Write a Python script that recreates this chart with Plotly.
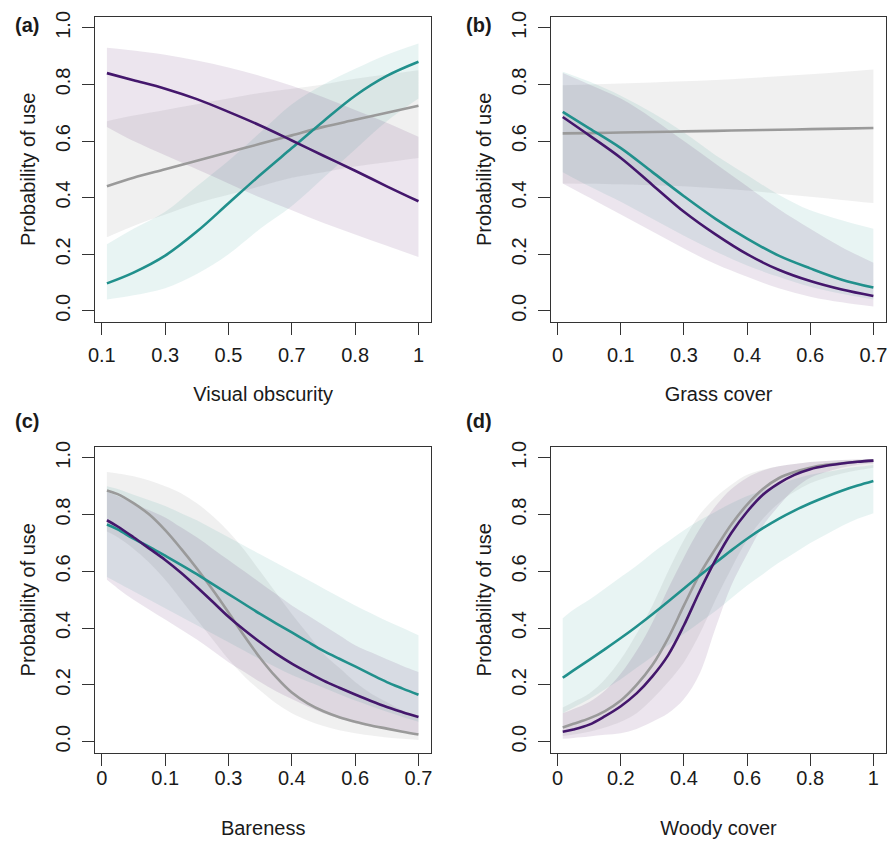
import plotly.graph_objects as go

# x positions along each (equally spaced) tick axis: tick i sits at position i
pos_ab = [0.08, 0.5, 1.0, 1.5, 2.0, 2.5, 3.0, 3.5, 4.0, 4.5, 5.0]
pos_cd = [0.08, 0.25, 0.5, 0.75, 1.0, 1.25, 1.5, 1.75, 2.0, 2.25, 2.5,
          2.75, 3.0, 3.25, 3.5, 3.75, 4.0, 4.25, 4.5, 4.75, 5.0]
tick_pos = [0, 1, 2, 3, 4, 5]

# tick labels
a_ticks = ["0.1", "0.3", "0.5", "0.7", "0.8", "1"]
b_ticks = ["0", "0.1", "0.3", "0.4", "0.6", "0.7"]
c_ticks = ["0", "0.1", "0.3", "0.4", "0.6", "0.7"]
d_ticks = ["0", "0.2", "0.4", "0.6", "0.8", "1"]
y_ticks = [0.0, 0.2, 0.4, 0.6, 0.8, 1.0]
y_tick_text = ["0.0", "0.2", "0.4", "0.6", "0.8", "1.0"]

x_titles = ["Visual obscurity", "Grass cover", "Bareness", "Woody cover"]
panel_labels = ["(a)", "(b)", "(c)", "(d)"]
y_title = "Probability of use"

# ---- (a) Visual obscurity ----
a_grey = [0.44, 0.47, 0.50, 0.53, 0.56, 0.59, 0.62, 0.65, 0.675, 0.70, 0.725]
a_grey_lo = [0.26, 0.30, 0.34, 0.38, 0.41, 0.44, 0.47, 0.49, 0.51, 0.525, 0.54]
a_grey_hi = [0.67, 0.69, 0.71, 0.73, 0.75, 0.77, 0.785, 0.80, 0.82, 0.835, 0.85]
a_teal = [0.097, 0.135, 0.195, 0.28, 0.38, 0.48, 0.575, 0.67, 0.76, 0.83, 0.88]
a_teal_lo = [0.04, 0.055, 0.08, 0.13, 0.20, 0.29, 0.37, 0.47, 0.57, 0.67, 0.75]
a_teal_hi = [0.235, 0.29, 0.35, 0.44, 0.53, 0.63, 0.73, 0.80, 0.855, 0.905, 0.945]
a_purple = [0.84, 0.815, 0.785, 0.748, 0.703, 0.655, 0.602, 0.548, 0.495, 0.44, 0.387]
a_purple_lo = [0.65, 0.60, 0.55, 0.50, 0.45, 0.40, 0.355, 0.31, 0.27, 0.23, 0.19]
a_purple_hi = [0.93, 0.92, 0.905, 0.885, 0.86, 0.83, 0.795, 0.755, 0.71, 0.665, 0.615]

# ---- (b) Grass cover ----
b_grey = [0.627, 0.628, 0.630, 0.632, 0.634, 0.636, 0.638, 0.640, 0.642, 0.644, 0.646]
b_grey_lo = [0.45, 0.449, 0.447, 0.444, 0.44, 0.433, 0.425, 0.414, 0.403, 0.392, 0.381]
b_grey_hi = [0.797, 0.800, 0.803, 0.807, 0.811, 0.816, 0.822, 0.829, 0.836, 0.844, 0.853]
b_teal = [0.703, 0.645, 0.575, 0.49, 0.405, 0.325, 0.255, 0.195, 0.15, 0.11, 0.082]
b_teal_lo = [0.49, 0.44, 0.385, 0.325, 0.265, 0.21, 0.16, 0.12, 0.085, 0.06, 0.04]
b_teal_hi = [0.845, 0.81, 0.76, 0.70, 0.63, 0.55, 0.48, 0.41, 0.355, 0.32, 0.29]
b_purple = [0.685, 0.62, 0.54, 0.445, 0.35, 0.27, 0.20, 0.145, 0.105, 0.075, 0.052]
b_purple_lo = [0.45, 0.40, 0.34, 0.28, 0.22, 0.165, 0.12, 0.08, 0.05, 0.03, 0.015]
b_purple_hi = [0.84, 0.80, 0.75, 0.68, 0.60, 0.52, 0.44, 0.36, 0.29, 0.225, 0.17]

# ---- (c) Bareness ----
c_grey = [0.885, 0.872, 0.84, 0.80, 0.745, 0.68, 0.61, 0.535, 0.455, 0.372, 0.295,
          0.228, 0.173, 0.135, 0.107, 0.086, 0.07, 0.057, 0.046, 0.035, 0.025]
c_grey_lo = [0.74, 0.72, 0.68, 0.63, 0.57, 0.50, 0.43, 0.36, 0.29, 0.23, 0.18,
             0.135, 0.10, 0.075, 0.055, 0.04, 0.03, 0.022, 0.015, 0.01, 0.006]
c_grey_hi = [0.95, 0.945, 0.935, 0.92, 0.90, 0.875, 0.84, 0.795, 0.74, 0.675, 0.60,
             0.525, 0.45, 0.38, 0.31, 0.26, 0.21, 0.17, 0.14, 0.11, 0.09]
c_teal = [0.765, 0.748, 0.715, 0.686, 0.655, 0.623, 0.59, 0.555, 0.52, 0.485, 0.45,
          0.417, 0.385, 0.352, 0.32, 0.292, 0.265, 0.237, 0.21, 0.187, 0.165]
c_teal_lo = [0.58, 0.56, 0.53, 0.50, 0.47, 0.44, 0.41, 0.38, 0.35, 0.32, 0.29,
             0.262, 0.235, 0.212, 0.19, 0.167, 0.145, 0.125, 0.105, 0.087, 0.07]
c_teal_hi = [0.90, 0.89, 0.87, 0.85, 0.83, 0.805, 0.78, 0.75, 0.72, 0.69, 0.66,
             0.63, 0.60, 0.57, 0.54, 0.51, 0.48, 0.452, 0.425, 0.40, 0.375]
c_purple = [0.78, 0.758, 0.72, 0.68, 0.64, 0.595, 0.545, 0.493, 0.44, 0.393, 0.35,
            0.31, 0.275, 0.244, 0.215, 0.19, 0.166, 0.143, 0.122, 0.104, 0.087]
c_purple_lo = [0.57, 0.54, 0.50, 0.465, 0.43, 0.395, 0.36, 0.32, 0.28, 0.245, 0.21,
               0.178, 0.15, 0.124, 0.10, 0.082, 0.065, 0.053, 0.042, 0.035, 0.028]
c_purple_hi = [0.88, 0.865, 0.84, 0.815, 0.79, 0.755, 0.72, 0.68, 0.64, 0.60, 0.56,
               0.52, 0.48, 0.445, 0.41, 0.375, 0.34, 0.315, 0.29, 0.267, 0.245]

# ---- (d) Woody cover ----
d_grey = [0.05, 0.063, 0.082, 0.108, 0.145, 0.20, 0.27, 0.365, 0.48, 0.59, 0.68,
          0.765, 0.835, 0.89, 0.928, 0.95, 0.965, 0.975, 0.981, 0.986, 0.99]
d_grey_lo = [0.02, 0.025, 0.035, 0.05, 0.07, 0.10, 0.15, 0.21, 0.28, 0.38, 0.50,
             0.61, 0.71, 0.785, 0.84, 0.88, 0.91, 0.93, 0.945, 0.956, 0.965]
d_grey_hi = [0.12, 0.14, 0.17, 0.22, 0.29, 0.38, 0.48, 0.60, 0.71, 0.80, 0.86,
             0.905, 0.94, 0.958, 0.97, 0.978, 0.985, 0.989, 0.992, 0.994, 0.996]
d_teal = [0.225, 0.251, 0.288, 0.326, 0.365, 0.406, 0.449, 0.494, 0.54, 0.585, 0.63,
          0.674, 0.715, 0.752, 0.785, 0.814, 0.84, 0.863, 0.884, 0.902, 0.918]
d_teal_lo = [0.10, 0.12, 0.15, 0.185, 0.22, 0.26, 0.30, 0.34, 0.38, 0.42, 0.46,
             0.505, 0.55, 0.59, 0.63, 0.665, 0.70, 0.73, 0.76, 0.785, 0.805]
d_teal_hi = [0.435, 0.465, 0.50, 0.54, 0.58, 0.62, 0.665, 0.705, 0.745, 0.78, 0.81,
             0.84, 0.865, 0.885, 0.905, 0.925, 0.94, 0.95, 0.96, 0.968, 0.975]
d_purple = [0.035, 0.043, 0.06, 0.09, 0.125, 0.17, 0.23, 0.305, 0.41, 0.53, 0.64,
            0.735, 0.81, 0.87, 0.91, 0.94, 0.96, 0.972, 0.98, 0.986, 0.99]
d_purple_lo = [0.01, 0.013, 0.018, 0.024, 0.03, 0.045, 0.07, 0.10, 0.15, 0.24, 0.40,
               0.55, 0.66, 0.76, 0.83, 0.89, 0.93, 0.95, 0.965, 0.975, 0.98]
d_purple_hi = [0.10, 0.115, 0.14, 0.18, 0.24, 0.32, 0.42, 0.54, 0.65, 0.75, 0.83,
               0.89, 0.93, 0.955, 0.97, 0.978, 0.985, 0.989, 0.992, 0.994, 0.995]

panels = [
    [(a_grey, a_grey_lo, a_grey_hi), (a_teal, a_teal_lo, a_teal_hi), (a_purple, a_purple_lo, a_purple_hi)],
    [(b_grey, b_grey_lo, b_grey_hi), (b_teal, b_teal_lo, b_teal_hi), (b_purple, b_purple_lo, b_purple_hi)],
    [(c_grey, c_grey_lo, c_grey_hi), (c_teal, c_teal_lo, c_teal_hi), (c_purple, c_purple_lo, c_purple_hi)],
    [(d_grey, d_grey_lo, d_grey_hi), (d_teal, d_teal_lo, d_teal_hi), (d_purple, d_purple_lo, d_purple_hi)],
]
panel_pos = [pos_ab, pos_ab, pos_cd, pos_cd]
tick_sets = [a_ticks, b_ticks, c_ticks, d_ticks]

line_colors = ["#9a9a9a", "#21908C", "#44176c"]
band_colors = ["rgba(153,153,153,0.15)", "rgba(33,144,140,0.10)", "rgba(68,1,84,0.10)"]

W, H = 888, 841
x_domains = [[89 / W, 428 / W], [549 / W, 887 / W], [89 / W, 428 / W], [549 / W, 887 / W]]
y_domains = [[1 - 318 / H, 1 - 11 / H], [1 - 318 / H, 1 - 11 / H],
             [1 - 752 / H, 1 - 444 / H], [1 - 752 / H, 1 - 444 / H]]
x_label_standoff = [3, 3, -5, -5]
x_title_standoff = [22, 22, 33, 33]
label_xy = [(20, 19), (476, 19), (20, 418), (476, 418)]

FONT = "Liberation Sans, Arial, sans-serif"
TXT = "#1a1a1a"
fig = go.Figure()

for i, groups in enumerate(panels):
    xa = "x" if i == 0 else f"x{i + 1}"
    ya = "y" if i == 0 else f"y{i + 1}"
    px = panel_pos[i]
    for g, (mid, lo, hi) in enumerate(groups):
        fig.add_trace(go.Scatter(x=px, y=lo, xaxis=xa, yaxis=ya, mode="lines",
                                 line=dict(width=0, shape="spline", color=band_colors[g]),
                                 showlegend=False, hoverinfo="skip"))
        fig.add_trace(go.Scatter(x=px, y=hi, xaxis=xa, yaxis=ya, mode="lines",
                                 line=dict(width=0, shape="spline", color=band_colors[g]),
                                 fill="tonexty", fillcolor=band_colors[g],
                                 showlegend=False, hoverinfo="skip"))
    for g, (mid, lo, hi) in enumerate(groups):
        fig.add_trace(go.Scatter(x=px, y=mid, xaxis=xa, yaxis=ya, mode="lines",
                                 line=dict(width=2.6, shape="spline", color=line_colors[g]),
                                 showlegend=False))

    axis_common = dict(showline=True, mirror=True, linecolor="#333333", linewidth=1,
                       ticks="outside", ticklen=12, tickwidth=1, tickcolor="#333333",
                       showgrid=False, zeroline=False,
                       tickfont=dict(family=FONT, size=20, color=TXT))
    xkey = "xaxis" if i == 0 else f"xaxis{i + 1}"
    ykey = "yaxis" if i == 0 else f"yaxis{i + 1}"
    fig.update_layout(**{
        xkey: dict(axis_common, domain=x_domains[i], anchor=ya, range=[-0.105, 5.2],
                   tickmode="array", tickvals=tick_pos, ticktext=tick_sets[i],
                   ticklabelstandoff=x_label_standoff[i],
                   title=dict(text=x_titles[i], standoff=x_title_standoff[i],
                              font=dict(family=FONT, size=20, color=TXT))),
        ykey: dict(axis_common, domain=y_domains[i], anchor=xa, range=[-0.0386, 1.0386],
                   tickmode="array", tickvals=y_ticks, ticktext=y_tick_text,
                   tickangle=-90, ticklabelstandoff=4,
                   title=dict(text=y_title, standoff=11,
                              font=dict(family=FONT, size=20, color=TXT))),
    })
    lx, ly = label_xy[i]
    fig.add_annotation(text=f"<b>{panel_labels[i]}</b>", x=lx / W, y=1 - ly / H,
                       xref="paper", yref="paper", showarrow=False,
                       font=dict(family=FONT, size=20, color=TXT),
                       xanchor="center", yanchor="middle")

fig.update_layout(width=W, height=H, margin=dict(l=0, r=0, t=0, b=0),
                  paper_bgcolor="white", plot_bgcolor="white")
fig.write_html("out.html", config={"displayModeBar": False},
               post_script="document.body.style.margin='0px';document.body.style.overflow='hidden';")
